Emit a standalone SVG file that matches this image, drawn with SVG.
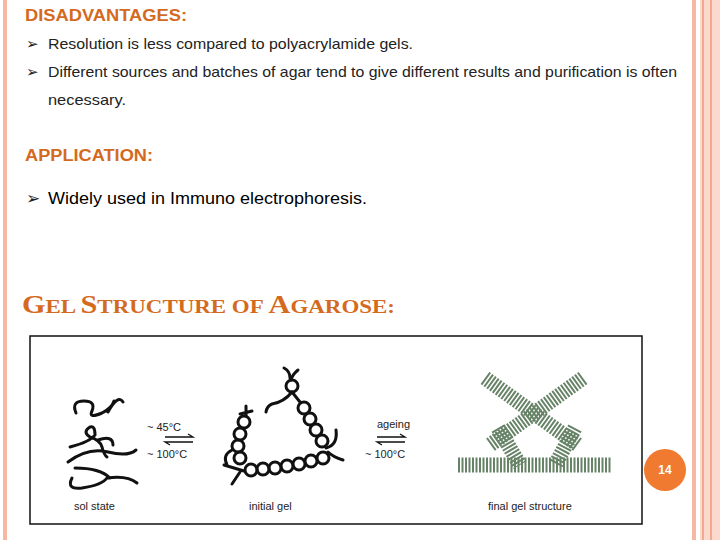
<svg xmlns="http://www.w3.org/2000/svg" width="720" height="540" viewBox="0 0 720 540">
<style>
.h{font-family:"Liberation Sans",Arial,sans-serif;font-weight:bold;font-size:16px;fill:#d46a1e}
.b{font-family:"Liberation Sans",Arial,sans-serif;font-size:15px;fill:#222}
.t{font-family:"Liberation Serif","Times New Roman",serif;font-weight:bold;fill:#d46a1e}
.lab{font-family:"Liberation Sans",Arial,sans-serif;font-size:11px;fill:#222}
.ch{fill:none;stroke:#111;stroke-width:3;stroke-linecap:round}
.g{fill:none;stroke:#4d6e4d;stroke-width:15;stroke-dasharray:2 1.5;opacity:.85}
</style>
<rect width="720" height="540" fill="#fff"/>
<rect x="3" y="0" width="4" height="540" fill="#f6b8a2"/>
<rect x="692" y="0" width="4" height="540" fill="#f6b8a2"/>
<rect x="700" y="0" width="20" height="540" fill="#fbd9cc"/>
<rect x="702" y="0" width="2" height="540" fill="#f4a98e"/>
<rect x="710" y="0" width="2" height="540" fill="#f4a98e"/>
<text class="h" x="25" y="21" textLength="162" lengthAdjust="spacingAndGlyphs">DISADVANTAGES:</text>
<text class="b" x="26" y="49">➢</text><text class="b" x="48" y="49" textLength="365" lengthAdjust="spacingAndGlyphs">Resolution is less compared to polyacrylamide gels.</text>
<text class="b" x="26" y="77">➢</text><text class="b" x="48" y="77" textLength="629" lengthAdjust="spacingAndGlyphs">Different sources and batches of agar tend to give different results and purification is often</text>
<text class="b" x="48" y="105" textLength="78" lengthAdjust="spacingAndGlyphs">necessary.</text>
<text class="h" x="25" y="161" textLength="128" lengthAdjust="spacingAndGlyphs">APPLICATION:</text>
<text class="b" x="26" y="204" style="font-size:17px">➢</text><text class="b" x="48" y="204" style="font-size:17px;fill:#000" textLength="319" lengthAdjust="spacingAndGlyphs">Widely used in Immuno electrophoresis.</text>
<text class="t" x="22" y="313" style="font-size:25px" textLength="373" lengthAdjust="spacingAndGlyphs">G<tspan style="font-size:19px">EL </tspan>S<tspan style="font-size:19px">TRUCTURE OF </tspan>A<tspan style="font-size:19px">GAROSE:</tspan></text>
<g id="figure">
<rect x="30" y="336" width="612" height="188" fill="#fff" stroke="#111" stroke-width="1.5"/>
<g id="sol" class="ch" stroke-width="2.5">
<path d="M76 413 q-5-12 8-12 q12 0 8 10 q-4 8 10 2 q10-5 12-12 M108 412 q10-18 15-10"/>
<path d="M70 447 q20-5 25-12 q0-10-5-8 q-8 5 0 10 q10 3 12 10 q2 8 5 10 M68 462 q20-15 40-10 q20 5 28-2 M98 440 q15-5 15 5"/>
<path d="M72 478 q-6 12 10 10 q20-3 25-10 q20-3 30 5 M75 468 q25 0 35 10"/>
</g>
<g id="arrows1" fill="none" stroke="#111" stroke-width="1.3">
<path d="M165 437 h28 l-5 -3 M193 442 h-28 l5 3"/>
<path d="M377 437 h28 l-5 -3 M405 442 h-28 l5 3"/>
</g>
<text class="lab" x="147" y="431">~ 45°C</text>
<text class="lab" x="147" y="458">~ 100°C</text>
<text class="lab" x="377" y="428">ageing</text>
<text class="lab" x="365" y="458">~ 100°C</text>
<g id="initial" class="ch" stroke-width="2.3">
<path d="M284 368 q6 3 6 10 M298 370 q-6 5-7 10"/>
<circle cx="292" cy="386" r="6" fill="none"/>
<path d="M292 392 q-8 10-20 12 q-5 2-6 8 M292 392 l8 10"/>
<circle cx="304" cy="408" r="6" fill="none"/><circle cx="310" cy="419" r="6" fill="none"/><circle cx="316" cy="430" r="6" fill="none"/><circle cx="322" cy="441" r="6" fill="none"/>
<path d="M326 448 q12-3 10-18 M328 452 q5 5 15 8"/>
<circle cx="323" cy="458" r="6" fill="none"/><circle cx="311" cy="461" r="6" fill="none"/><circle cx="299" cy="464" r="6" fill="none"/><circle cx="287" cy="466" r="6" fill="none"/><circle cx="275" cy="468" r="6" fill="none"/><circle cx="263" cy="469" r="6" fill="none"/><circle cx="251" cy="470" r="6" fill="none"/>
<path d="M244 471 l-20 -6 M240 472 l-8 12 M227 465 q-5-10 5-15"/>
<circle cx="240" cy="458" r="6" fill="none"/><circle cx="238" cy="446" r="6" fill="none"/><circle cx="240" cy="434" r="6" fill="none"/><circle cx="244" cy="422" r="6" fill="none"/>
<path d="M246 416 l0 -10 M240 414 l12 -3"/>
</g>
<g id="final" class="g">
<path d="M485 378 L578 445"/>
<path d="M583 378 L490 445"/>
<path d="M498 428 L520 465 M575 428 L555 465"/>
<path d="M458 465 L612 465"/>
</g>
<text class="lab" x="74" y="510">sol state</text>
<text class="lab" x="249" y="510">initial gel</text>
<text class="lab" x="488" y="510">final gel structure</text>
</g>
<g id="badge">
<circle cx="665" cy="470" r="21" fill="#f07a30"/>
<text x="665" y="474" text-anchor="middle" style="font-family:'Liberation Sans',Arial,sans-serif;font-size:12px;font-weight:bold;fill:#fff">14</text>
</g>
</svg>
